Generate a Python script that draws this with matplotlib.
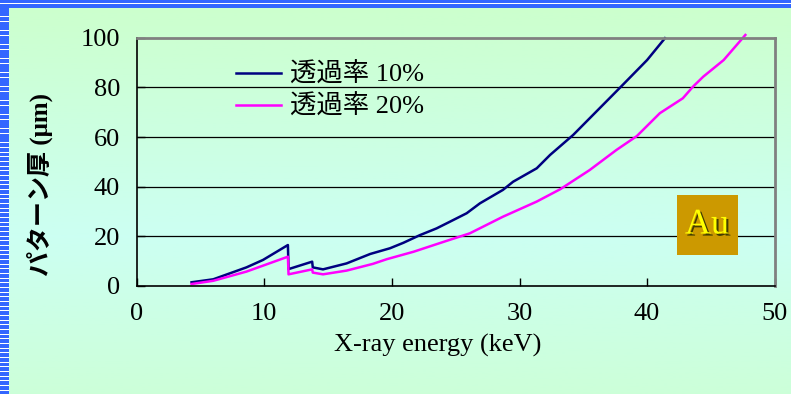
import matplotlib
matplotlib.use("Agg")
import matplotlib.pyplot as plt
import matplotlib.patheffects as pe
import numpy as np
from matplotlib.patches import Rectangle

# values (X-ray energy in keV, pattern thickness in um)
energy_10 = [4.3, 6.0, 8.6, 9.9, 11.85, 11.9, 13.75, 13.8, 14.6, 16.45, 18.3, 19.85,
             20.9, 22.2, 23.5, 24.55, 25.86, 26.9, 28.7, 29.5, 31.35, 32.4, 34.2,
             37.9, 40.0, 41.4]
thick_10 = [1.5, 2.7, 7.5, 10.5, 16.5, 6.8, 9.8, 7.5, 6.7, 9.1, 12.9, 15.2,
            17.4, 20.5, 23.2, 25.9, 29.3, 33.3, 38.7, 42.0, 47.4, 52.8, 60.8,
            80.0, 91.0, 99.8]

energy_20 = [4.3, 6.0, 8.6, 9.9, 11.85, 11.9, 13.75, 13.8, 14.6, 16.45, 18.5, 19.6,
             21.7, 24.3, 26.1, 28.7, 31.35, 33.2, 35.5, 37.6, 39.2, 41.0, 42.8,
             43.6, 44.4, 46.0, 47.7]
thick_20 = [0.8, 2.1, 5.8, 8.2, 11.8, 4.7, 6.7, 5.4, 4.7, 6.2, 8.9, 10.8,
            13.8, 18.2, 21.2, 27.9, 34.0, 39.0, 46.7, 54.8, 60.4, 69.6, 75.6,
            80.3, 84.3, 91.0, 101.1]

labels = ["透過率 10%", "透過率 20%"]
x_ticks = [0, 10, 20, 30, 40, 50]
y_ticks = [0, 20, 40, 60, 80, 100]

W, H = 791, 394
fig = plt.figure(figsize=(W / 100, H / 100), dpi=100)

# background: green -> cyan -> green gradient, plus blue striped border
bg = fig.add_axes([0, 0, 1, 1], zorder=-10)
t = np.linspace(0, 1, 200)
top = np.array([0.80, 1.0, 0.80])
mid = np.array([0.80, 1.0, 0.95])
w = np.clip(1 - np.abs(t - 0.6) / 0.6, 0, 1)[:, None]
grad = top * (1 - w) + mid * w
bg.imshow(grad[:, None, :], aspect="auto", extent=[0, W, H, 0])
blue = "#3366ff"
bg.add_patch(Rectangle((0, 0), W, 8, color=blue, lw=0))
bg.add_patch(Rectangle((0, 2.6), W, 0.9, color="white", lw=0))
bg.add_patch(Rectangle((0, 8), 9, H - 8, color=blue, lw=0))
for yy in np.arange(11.5, H, 4.67):
    bg.add_patch(Rectangle((0, yy), 9, 0.9, color="white", lw=0))
bg.set_xlim(0, W)
bg.set_ylim(H, 0)
bg.axis("off")

ax = fig.add_axes([136.7 / W, 1 - 286 / H, (774.7 - 136.7) / W, (286 - 37.7) / H])
ax.set_facecolor("none")

ax.plot(energy_10, thick_10, color="#000080", lw=1.8, label=labels[0], clip_on=False)
ax.plot(energy_20, thick_20, color="#ff00ff", lw=1.8, label=labels[1], clip_on=False)

ax.set_xlim(0, 50)
ax.set_ylim(0, 100)
ax.set_xticks(x_ticks)
ax.set_yticks(y_ticks)
for g in y_ticks[1:-1]:
    ax.axhline(g, color="black", lw=0.9, zorder=0)

serif = "Liberation Serif"
fams = [serif, "Noto Sans CJK JP"]
ax.tick_params(direction="in", length=6, width=1, pad=12, labelsize=19)
for lab in ax.get_xticklabels() + ax.get_yticklabels():
    lab.set_family(serif)
ax.spines["left"].set_color("black")
ax.spines["bottom"].set_color("black")
ax.spines["left"].set_linewidth(1.2)
ax.spines["bottom"].set_linewidth(1.2)
ax.spines["top"].set_color("#808080")
ax.spines["right"].set_color("#808080")
ax.spines["top"].set_linewidth(2)
ax.spines["right"].set_linewidth(2)

fig.text(438 / W, 1 - 345 / H, "X-ray energy (keV)", ha="center", va="center",
         fontsize=19, family=serif)
fig.text(40 / W, 1 - 185 / H, "パターン厚 (μm)", ha="center", va="center",
         rotation=90, fontsize=18, family=fams, fontweight="bold")

leg = ax.legend(loc="upper left", bbox_to_anchor=(0.156, 0.90), frameon=False,
                borderpad=0, borderaxespad=0,
                handlelength=1.7, handletextpad=0.35, labelspacing=0.3,
                prop={"family": fams, "size": 19})

# Au badge
fig.patches.append(Rectangle((677 / W, 1 - 254.7 / H), 60.7 / W, 59.7 / H,
                             transform=fig.transFigure, color="#cc9900", lw=0))
fig.text(707 / W, 1 - 225 / H, "Au", ha="center", va="center", fontsize=26,
         family=serif, color="#ffff00",
         path_effects=[pe.withSimplePatchShadow(offset=(1.5, -1.5), shadow_rgbFace="#333300", alpha=0.9)])

fig.savefig("out.png", dpi=100)
